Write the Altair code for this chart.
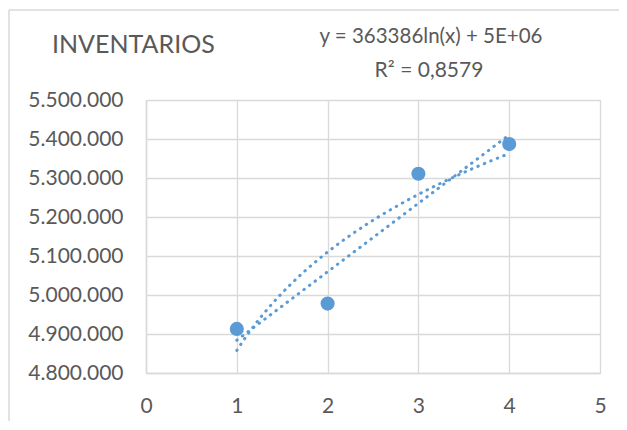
import altair as alt
import pandas as pd

# Data
x_vals = [1, 2, 3, 4]
y_vals = [4913000, 4978000, 5311000, 5387000]
x_ticks = [0, 1, 2, 3, 4, 5]
y_ticks = [4800000, 4900000, 5000000, 5100000, 5200000, 5300000, 5400000, 5500000]
title_text = "INVENTARIOS"
eq_line1 = "y = 363386ln(x) + 5E+06"
eq_line2 = "R² = 0,8579"

df = pd.DataFrame({"x": x_vals, "y": y_vals})

BLUE = "#5B9BD5"
TXT = "#595959"
GRID = "#D9D9D9"
FONT = "Lato"

W, H = 454, 273

xs = alt.Scale(domain=[0, 5], nice=False, zero=False)
ys = alt.Scale(domain=[4800000, 5500000], nice=False, zero=False)

xax = alt.Axis(values=x_ticks, title=None, grid=True, gridColor=GRID, gridWidth=1.3,
               domainColor=GRID, domainWidth=1.5, ticks=False, labelFont=FONT,
               labelFontSize=21, labelColor=TXT, labelPadding=22, labelBaseline="top",
               labelFlush=False, labelOverlap=False, format="d")
yax = alt.Axis(values=y_ticks, title=None, grid=True, gridColor=GRID, gridWidth=1.3,
               domainColor=GRID, domainWidth=1.5, ticks=False, labelFont=FONT,
               labelFontSize=21, labelColor=TXT, labelPadding=23, labelOverlap=False,
               labelFlush=False,
               labelExpr="replace(replace(format(datum.value, ',.0f'), ',', '.'), ',', '.')")

X = alt.X("x:Q", scale=xs, axis=xax)
Y = alt.Y("y:Q", scale=ys, axis=yax)

base = alt.Chart(df)

points = base.mark_point(filled=True, size=200, opacity=1, color=BLUE).encode(x=X, y=Y)

dots = dict(strokeDash=[0.5, 6.5], strokeCap="round", strokeWidth=3, color=BLUE)

log_line = base.transform_regression("x", "y", method="log", extent=[1, 4]).mark_line(**dots).encode(x=X, y=Y)
lin_line = base.transform_regression("x", "y", method="linear", extent=[1, 4]).mark_line(**dots).encode(x=X, y=Y)

one = pd.DataFrame({"a": [0]})
title = alt.Chart(one).mark_text(text=title_text, font=FONT, fontSize=25, color=TXT,
                                 align="left", baseline="alphabetic").encode(
    x=alt.value(-94), y=alt.value(-47))
eq1 = alt.Chart(one).mark_text(text=eq_line1, font=FONT, fontSize=20.5, color=TXT,
                               align="center", baseline="alphabetic").encode(
    x=alt.value(285), y=alt.value(-57))
eq2 = alt.Chart(one).mark_text(text=eq_line2, font=FONT, fontSize=21, color=TXT,
                               align="center", baseline="alphabetic").encode(
    x=alt.value(283), y=alt.value(-23))

border_top = alt.Chart(one).mark_rule(color="#D9D9D9", strokeWidth=1.5).encode(
    x=alt.value(-137), x2=alt.value(490), y=alt.value(-90))
border_left = alt.Chart(one).mark_rule(color="#D9D9D9", strokeWidth=1.5).encode(
    x=alt.value(-137), y=alt.value(-90), y2=alt.value(340))

chart = alt.layer(border_top, border_left, points, log_line, lin_line, title, eq1, eq2).properties(
    width=W, height=H,
    autosize=alt.AutoSizeParams(type="none"),
    padding={"left": 138, "top": 92, "right": 19, "bottom": 48},
).configure_view(stroke=None).configure(background="white")

chart.save("out.html", embed_options={"renderer": "svg", "actions": False})
